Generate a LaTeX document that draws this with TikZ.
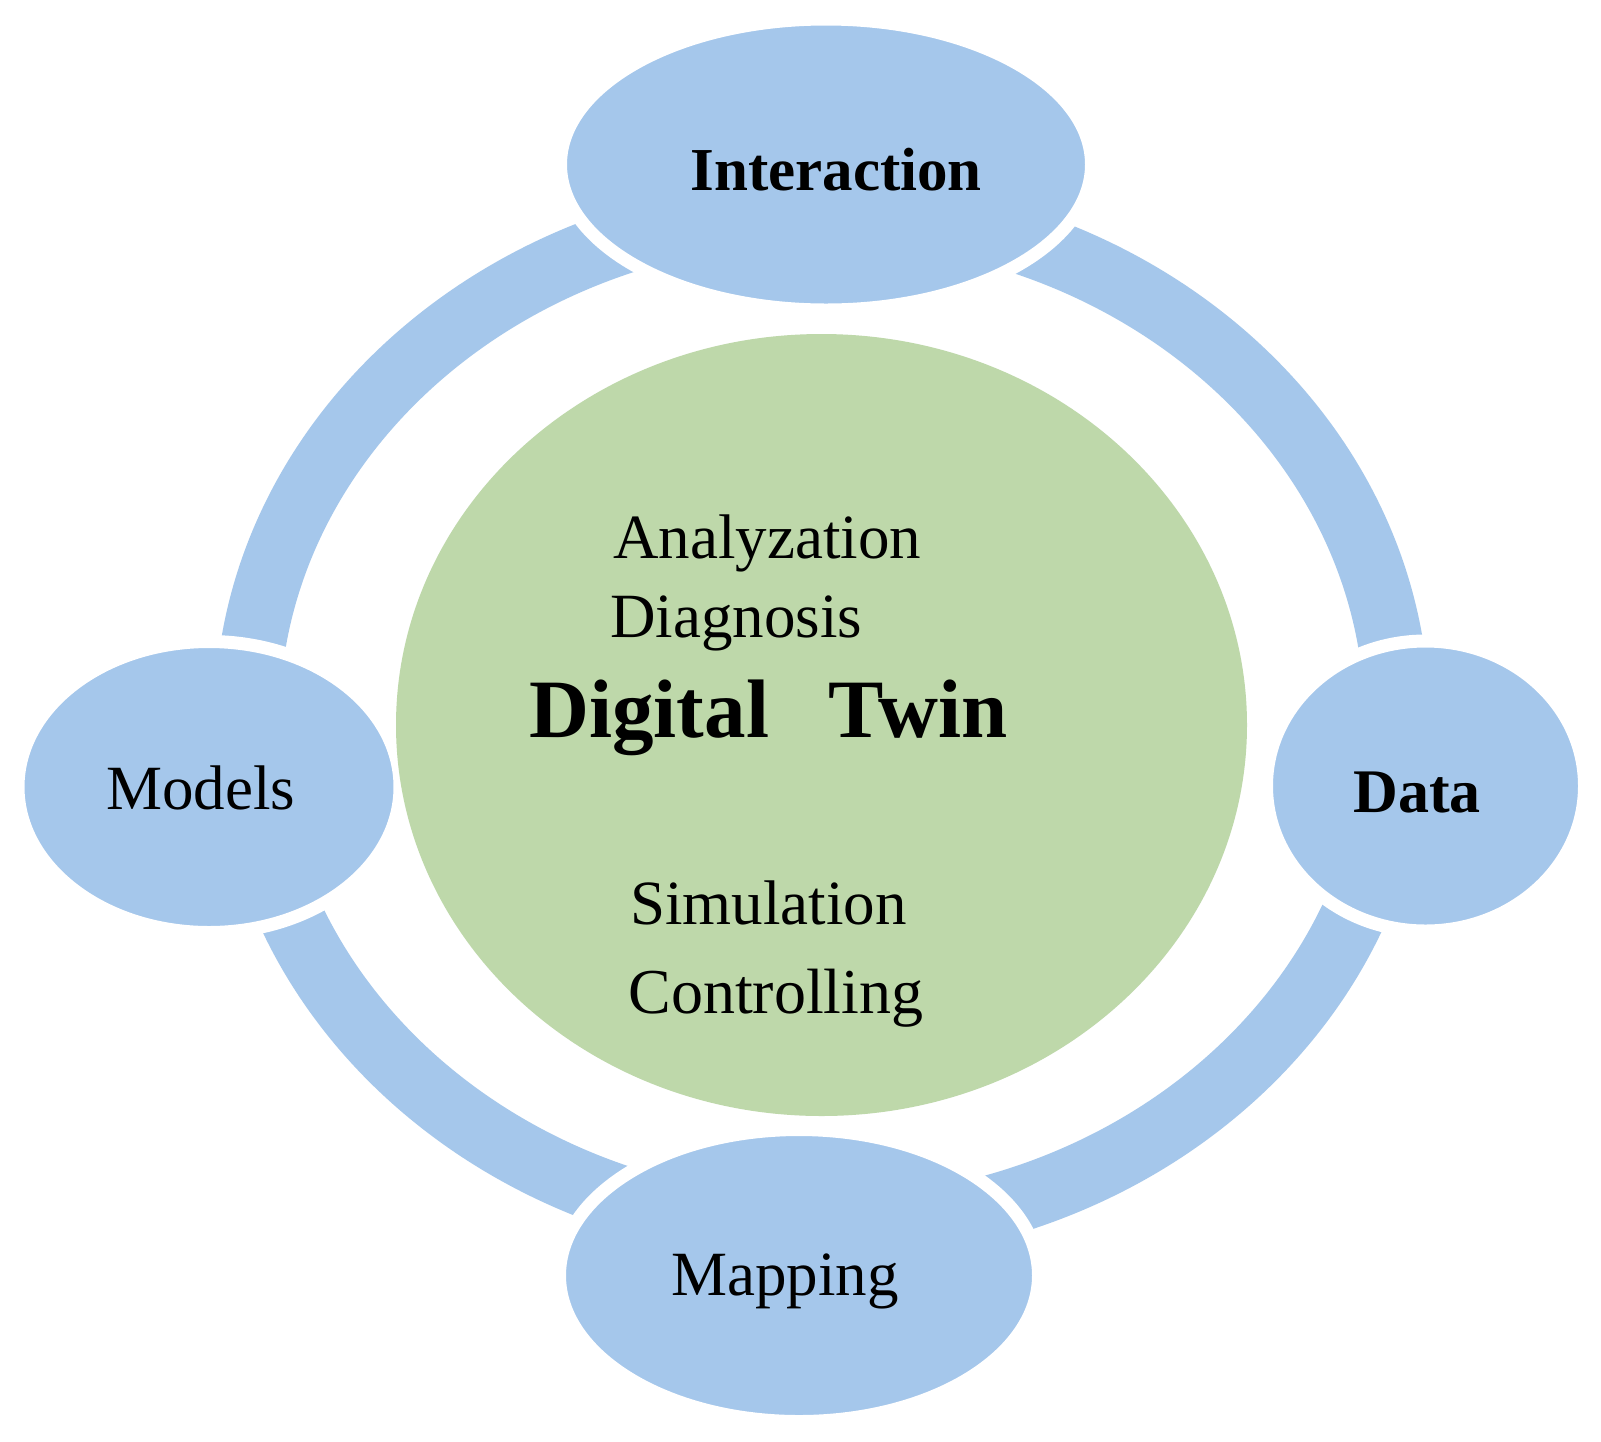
\documentclass[tikz,border=0pt]{standalone}
\usepackage{fontspec}
\setmainfont{Liberation Serif}
\usetikzlibrary{shapes.geometric}
\definecolor{ringblue}{RGB}{165,199,235}
\definecolor{coregreen}{RGB}{190,216,170}
\begin{document}
\begin{tikzpicture}[x=0.5pt,y=-0.5pt,
  bubble/.style={ellipse, fill=ringblue, draw=white, line width=6.5pt, inner sep=0pt},
  ringband/.style={draw=ringblue, line width=32.5pt},
  core/.style={ellipse, fill=coregreen, inner sep=0pt},
  lbl/.style={anchor=base west, inner sep=0pt, font=\fontsize{31.5pt}{36pt}\selectfont},
  lblb/.style={anchor=base west, inner sep=0pt, font=\fontsize{30.5pt}{36pt}\selectfont\bfseries}]
\useasboundingbox[fill=white] (0,0) rectangle (1601,1441);
% ring
\coordinate (ringc) at (822,720);
\draw[ringband] (ringc) ellipse [x radius=287.5pt, y radius=255pt];
% bubbles
\node[bubble, minimum width=265.5pt, minimum height=145.5pt] (inter) at (826,164.5) {};
\node[bubble, minimum width=191pt, minimum height=145.5pt] (models) at (209,787) {};
\node[bubble, minimum width=159pt, minimum height=145pt] (data) at (1425.5,786) {};
\node[bubble, minimum width=239.5pt, minimum height=146pt] (mapping) at (799,1275.5) {};
% core
\node[core, minimum width=425.5pt, minimum height=391pt] (coreN) at (821.5,725) {};
% labels
\node[lblb] (tinter) at (690,190) {Interaction};
\node[lbl] (tmodels) at (106,809) {Models};
\node[lblb, font=\fontsize{31pt}{36pt}\selectfont\bfseries] (tdata) at (1353,812) {Data};
\node[lbl] (tmapping) at (671,1295) {Mapping};
\node[lbl] (tana) at (613,558.5) {Analyzation};
\node[lbl] (tdia) at (610,637) {Diagnosis};
\node[lblb, font=\fontsize{41.5pt}{48pt}\selectfont\bfseries] (tdt) at (529,737) {Digital\hspace{0.47em} Twin};
\node[lbl] (tsim) at (630,924) {Simulation};
\node[lbl, font=\fontsize{32pt}{36pt}\selectfont] (tcon) at (628,1013) {Controlling};
\end{tikzpicture}
\end{document}
